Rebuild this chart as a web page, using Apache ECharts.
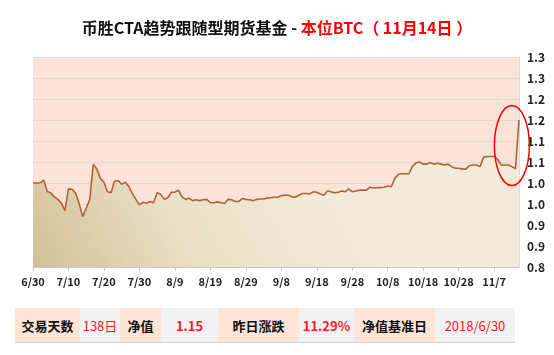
<!DOCTYPE html>
<html>
<head>
<meta charset="utf-8">
<script src="https://cdn.jsdelivr.net/npm/echarts@6/dist/echarts.min.js"></script>
<style>
  html, body { margin: 0; padding: 0; background: #fff; }
  #wrap { position: relative; width: 554px; height: 355px; }
  #chart { position: absolute; left: 0; top: 0; width: 554px; height: 355px; }
  #stats { position: absolute; left: 15px; top: 308px; height: 34px; display: flex; border-bottom: 1px solid #d4d4d4;
    font-family: "Microsoft YaHei", "Noto Sans CJK SC", sans-serif; font-size: 13px; }
  #stats div { display: flex; align-items: center; justify-content: center; height: 34px; }
  #stats .k { background: #fce4d6; color: #111; font-weight: bold; }
  #stats .v { background: #f2f2f2; color: #ff1a1a; }
  #stats .b { font-weight: bold; }
</style>
</head>
<body>
<div id="wrap">
  <div id="chart"></div>
  <div id="stats"></div>
</div>
<script>
// 净值，从 6/30 起每日一个点
const startDate = [2018, 6, 30]
const navValues = [
  1.000, 1.000, 1.000, 1.007, 0.980, 0.977, 0.967, 0.961, 0.952, 0.934,
  0.986, 0.985, 0.976, 0.951, 0.920, 0.940, 0.961, 1.045, 1.033, 1.011,
  1.002, 0.979, 0.977, 1.004, 1.006, 0.997, 1.002, 0.992, 0.975, 0.961,
  0.948, 0.954, 0.952, 0.956, 0.953, 0.977, 0.973, 0.961, 0.965, 0.978,
  0.978, 0.983, 0.967, 0.961, 0.964, 0.958, 0.960, 0.958, 0.960, 0.961,
  0.953, 0.953, 0.955, 0.953, 0.951, 0.961, 0.960, 0.956, 0.956, 0.963,
  0.961, 0.960, 0.958, 0.961, 0.962, 0.962, 0.964, 0.965, 0.966, 0.966,
  0.970, 0.971, 0.971, 0.967, 0.966, 0.971, 0.975, 0.975, 0.974, 0.979,
  0.978, 0.974, 0.971, 0.981, 0.979, 0.977, 0.978, 0.981, 0.979, 0.986,
  0.979, 0.981, 0.983, 0.983, 0.983, 0.990, 0.988, 0.989, 0.989, 0.990,
  0.993, 0.991, 1.011, 1.021, 1.022, 1.022, 1.022, 1.040, 1.048, 1.050,
  1.045, 1.045, 1.048, 1.045, 1.047, 1.045, 1.043, 1.045, 1.039, 1.035,
  1.035, 1.033, 1.033, 1.041, 1.043, 1.043, 1.039, 1.061, 1.063, 1.063,
  1.063, 1.056, 1.043, 1.043, 1.043, 1.039, 1.034, 1.150,
]
// y 轴刻度按一位小数显示（0.80 ~ 1.30 每 0.05）
const yTickLabels = ['0.8', '0.9', '0.9', '1.0', '1.0', '1.1', '1.1', '1.2', '1.2', '1.3', '1.3']
const statKeys = ['交易天数', '净值', '昨日涨跌', '净值基准日']
const statVals = ['138日', '1.15', '11.29%', '2018/6/30']

const dates = navValues.map((_, i) => {
  const d = new Date(startDate[0], startDate[1] - 1, startDate[2] + i)
  return `${d.getMonth() + 1}/${d.getDate()}`
})

const font = '"Microsoft YaHei", "Noto Sans CJK SC", sans-serif'
const gridColors = yTickLabels.map((_, i) => i === yTickLabels.length - 1 ? '#d6dde4' : '#ecd6c9')

const chart = echarts.init(document.getElementById('chart'))
chart.setOption({
  animation: false,
  title: {
    text: '{a|币胜CTA趋势跟随型期货基金 - }{b|本位BTC（ 11月14日 ）}',
    left: 'center',
    top: 15,
    textStyle: {
      rich: {
        a: { fontFamily: font, fontSize: 16, fontWeight: 'bold', color: '#111' },
        b: { fontFamily: font, fontSize: 16, fontWeight: 'bold', color: '#ff0000' },
      },
    },
  },
  grid: {
    left: 33, right: 35, top: 57, bottom: 88,
    show: true, backgroundColor: '#fbe4d7', borderWidth: 0,
  },
  xAxis: {
    type: 'category',
    data: dates,
    boundaryGap: false,
    axisLine: { lineStyle: { color: '#c8c8c8' } },
    axisTick: { interval: 9, length: 4, lineStyle: { color: '#c8c8c8' } },
    axisLabel: { interval: 9, color: '#222', fontFamily: font, fontSize: 11, fontWeight: 'bold', margin: 9 },
    splitLine: { show: false },
  },
  yAxis: {
    type: 'value',
    position: 'right',
    min: 0.8, max: 1.3, interval: 0.05,
    axisLine: { show: true, lineStyle: { color: '#d6dde4' } },
    axisTick: { show: false },
    axisLabel: {
      color: '#222', fontFamily: font, fontSize: 12, fontWeight: 'bold', margin: 8,
      formatter: (v, i) => yTickLabels[i],
    },
    splitLine: { lineStyle: { color: gridColors, width: 1 } },
  },
  series: [{
    type: 'line',
    data: navValues,
    symbol: 'none',
    lineStyle: { color: '#b0623a', width: 1.6 },
    areaStyle: {
      opacity: 1,
      color: new echarts.graphic.LinearGradient(0, 1, 0.55, 0, [
        { offset: 0, color: '#d3c096' },
        { offset: 0.5, color: '#ebe1c8' },
        { offset: 1, color: '#f2ebda' },
      ]),
    },
  }],
})

// 红色椭圆圈出最后的跳升
const c = chart.convertToPixel({ gridIndex: 0 }, [135.4, 1.089])
chart.setOption({
  graphic: [{
    type: 'ellipse',
    shape: { cx: c[0], cy: c[1], rx: 17.5, ry: 40 },
    style: { fill: 'none', stroke: '#ff0000', lineWidth: 1.5 },
    z: 100,
  }],
})

// 底部指标条
const widths = [[65, 40], [41, 57], [81, 55], [81, 80]]
const stats = document.getElementById('stats')
statKeys.forEach((k, i) => {
  const kd = document.createElement('div')
  kd.className = 'k'
  kd.style.width = widths[i][0] + 'px'
  kd.textContent = k
  const vd = document.createElement('div')
  vd.className = 'v' + (i === 1 || i === 2 ? ' b' : '')
  vd.style.width = widths[i][1] + 'px'
  vd.textContent = statVals[i]
  stats.appendChild(kd)
  stats.appendChild(vd)
})
</script>
</body>
</html>
